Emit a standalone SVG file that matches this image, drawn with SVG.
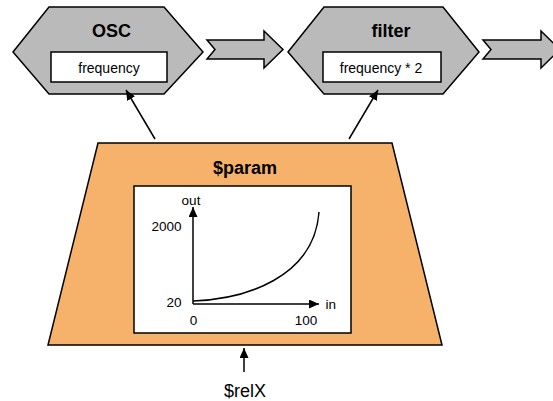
<svg xmlns="http://www.w3.org/2000/svg" width="553" height="401" viewBox="0 0 553 401">
<defs>
<style>
.hex{fill:#bababa;stroke:#000;stroke-width:1.5;stroke-linejoin:miter}
.box{fill:#fff;stroke:#000;stroke-width:1.5}
.blk{fill:#bababa;stroke:#000;stroke-width:1.5;stroke-linejoin:miter}
.title{font-family:"Liberation Sans",Arial,sans-serif;font-weight:bold;font-size:18px;text-anchor:middle;fill:#000}
.lbl{font-family:"Liberation Sans",Arial,sans-serif;font-size:14px;text-anchor:middle;fill:#000}
.ax{font-family:"Liberation Sans",Arial,sans-serif;font-size:13.5px;fill:#000}
.con{stroke:#000;stroke-width:1.5;fill:none}
</style>
<marker id="ah" markerWidth="10" markerHeight="9" refX="10" refY="4.5" orient="auto" markerUnits="userSpaceOnUse">
<path d="M0,0 L10,4.5 L0,9 Z" fill="#000"/>
</marker>
</defs>
<rect width="553" height="401" fill="#fff"/>

<g id="osc">
<polygon class="hex" points="13,52 49,7 164,7 203,52 164,94 49,94"/>
<rect class="box" x="51" y="52" width="116" height="30"/>
<text class="title" x="111.5" y="37">OSC</text>
<text class="lbl" x="109" y="73">frequency</text>
</g>

<g id="arrow1">
<polygon class="blk" points="207,40 264,40 264,31 283,49.5 264,68 264,59 207,59 215,49.5"/>
</g>

<g id="filter">
<polygon class="hex" points="288,52 324,7 443,7 479,52 443,94 324,94"/>
<rect class="box" x="323" y="52" width="118" height="30"/>
<text class="title" x="391" y="37">filter</text>
<text class="lbl" x="381" y="73">frequency * 2</text>
</g>

<g id="arrow2">
<polygon class="blk" points="483,40 541,40 541,31 560,49.5 541,68 541,59 483,59 491,49.5"/>
</g>

<g id="param">
<polygon points="98,143 392,143 442,345 48,345" fill="#f6b26b" stroke="#000" stroke-width="1.5"/>
<text class="title" x="245" y="174">$param</text>
<rect x="134" y="186" width="217" height="147" fill="#fff" stroke="#000" stroke-width="1.5"/>
<line class="con" x1="193" y1="304" x2="193" y2="207" marker-end="url(#ah)"/>
<line class="con" x1="193" y1="304" x2="319" y2="304" marker-end="url(#ah)"/>
<path class="con" d="M193,301 C245,299 314,278 319,212"/>
<text class="ax" x="191" y="205" text-anchor="middle">out</text>
<text class="ax" x="181.5" y="231" text-anchor="end">2000</text>
<text class="ax" x="181.5" y="307" text-anchor="end">20</text>
<text class="ax" x="193.5" y="325" text-anchor="middle">0</text>
<text class="ax" x="306" y="325" text-anchor="middle">100</text>
<text class="ax" x="325.5" y="309">in</text>
</g>

<g id="relx">
<text x="245" y="397" font-family="'Liberation Sans',Arial,sans-serif" font-size="18" text-anchor="middle">$relX</text>
</g>

<g id="connectors">
<line class="con" x1="155" y1="139" x2="126" y2="90" marker-end="url(#ah)"/>
<line class="con" x1="349" y1="139" x2="378" y2="90" marker-end="url(#ah)"/>
<line class="con" x1="244" y1="372" x2="244" y2="348" marker-end="url(#ah)"/>
</g>
</svg>
